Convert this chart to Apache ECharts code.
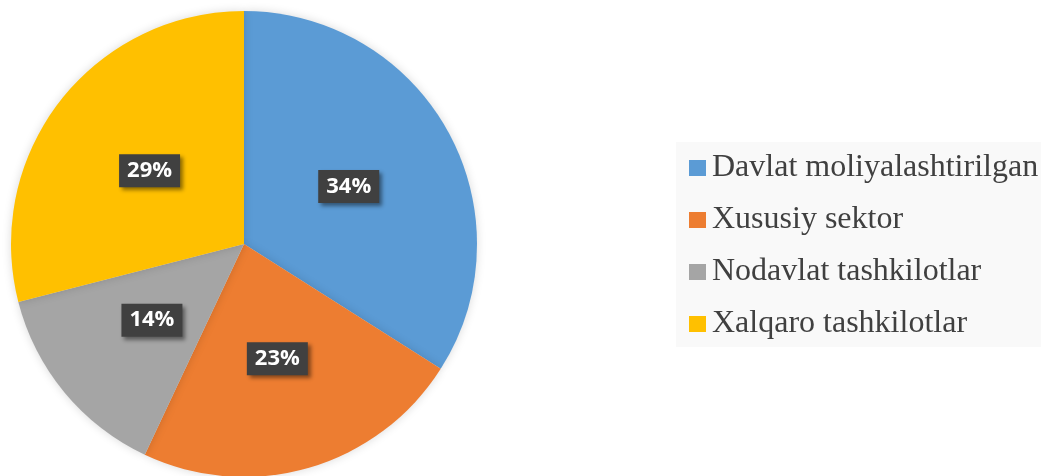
<!DOCTYPE html>
<html>
<head>
<meta charset="utf-8">
<script src="https://cdn.jsdelivr.net/npm/echarts@6/dist/echarts.min.js"></script>
<style>
  html, body { margin: 0; padding: 0; background: #fff; }
  #chart { width: 1041px; height: 476px; }
</style>
</head>
<body>
<div id="chart"></div>
<script>
const categories = ["Davlat moliyalashtirilgan", "Xususiy sektor", "Nodavlat tashkilotlar", "Xalqaro tashkilotlar"];
const shares = [34, 23, 14, 29];
const colors = ["#5B9BD5", "#ED7D31", "#A5A5A5", "#FFC000"];

const chart = echarts.init(document.getElementById("chart"), null, { renderer: "canvas" });

chart.setOption({
  animation: false,
  color: colors,
  legend: {
    orient: "vertical",
    left: 676,
    top: 142,
    padding: [10, 40, 7, 13],
    backgroundColor: "#F9F9F9",
    itemWidth: 17,
    itemHeight: 16,
    itemGap: 20,
    icon: "rect",
    textStyle: {
      fontFamily: "Liberation Serif",
      fontSize: 32,
      color: "#404040",
      padding: [0, 0, 0, 1]
    },
    data: categories
  },
  series: [{
    type: "pie",
    center: [244, 244],
    radius: 233,
    startAngle: 90,
    clockwise: true,
    itemStyle: {
      borderWidth: 0,
      shadowBlur: 10,
      shadowColor: "rgba(0,0,0,0.15)"
    },
    label: {
      show: true,
      position: "inside",
      formatter: "{c}%",
      fontFamily: "Open Sans",
      fontWeight: "bold",
      fontSize: 22,
      color: "#fff",
      backgroundColor: "#404040",
      padding: [6, 8, 5, 8],
      shadowBlur: 4,
      shadowOffsetX: 3,
      shadowOffsetY: 3,
      shadowColor: "rgba(0,0,0,0.45)"
    },
    labelLine: { show: false },
    emphasis: { disabled: true },
    data: categories.map((name, i) => ({ name, value: shares[i] }))
  }]
});
</script>
</body>
</html>
